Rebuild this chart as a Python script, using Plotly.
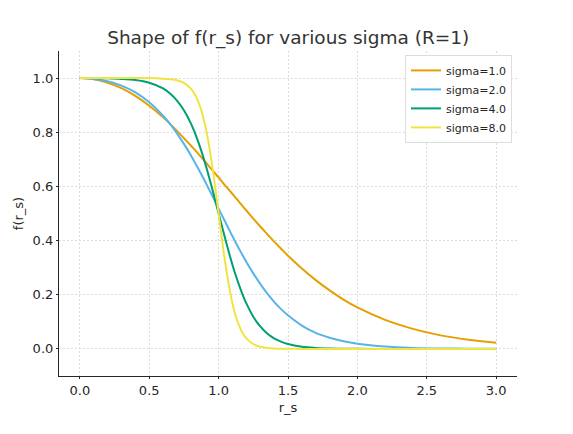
import plotly.graph_objects as go

# values
r_s = [0.0, 0.1, 0.2, 0.3, 0.4, 0.5, 0.6, 0.65, 0.7, 0.75, 0.8, 0.825, 0.85, 0.875, 0.9,
       0.925, 0.95, 0.975, 1.0, 1.025, 1.05, 1.075, 1.1, 1.125, 1.15, 1.175, 1.2, 1.25,
       1.3, 1.35, 1.4, 1.45, 1.5, 1.6, 1.7, 1.8, 1.9, 2.0, 2.2, 2.4, 2.6, 2.8, 3.0]

f_sigma1 = [1.0, 0.996, 0.983, 0.963, 0.934, 0.898, 0.855, 0.831, 0.805, 0.778, 0.751, 0.737,
            0.723, 0.708, 0.693, 0.678, 0.663, 0.648, 0.633, 0.617, 0.602, 0.587, 0.572,
            0.557, 0.541, 0.526, 0.511, 0.481, 0.452, 0.424, 0.396, 0.370, 0.344, 0.297,
            0.254, 0.216, 0.182, 0.153, 0.107, 0.074, 0.050, 0.034, 0.023]
f_sigma2 = [1.0, 0.997, 0.988, 0.972, 0.947, 0.911, 0.861, 0.831, 0.796, 0.757, 0.715, 0.692,
            0.669, 0.645, 0.621, 0.595, 0.570, 0.544, 0.518, 0.492, 0.467, 0.441, 0.416,
            0.391, 0.367, 0.344, 0.321, 0.279, 0.240, 0.205, 0.174, 0.147, 0.124, 0.086,
            0.059, 0.041, 0.028, 0.019, 0.0085, 0.0038, 0.0017, 0.0008, 0.0003]
f_sigma4 = [1.0, 1.0, 0.999, 0.997, 0.993, 0.983, 0.962, 0.943, 0.917, 0.881, 0.833, 0.803,
            0.769, 0.732, 0.690, 0.646, 0.599, 0.550, 0.500, 0.451, 0.402, 0.355, 0.310,
            0.269, 0.232, 0.198, 0.168, 0.119, 0.083, 0.057, 0.039, 0.027, 0.018, 0.008,
            0.0037, 0.0017, 0.0008, 0.0003, 0.0001, 0.0, 0.0, 0.0, 0.0]
f_sigma8 = [1.0, 1.0, 1.0, 1.0, 1.0, 1.0, 0.998, 0.996, 0.992, 0.982, 0.961, 0.943, 0.917,
            0.881, 0.832, 0.769, 0.690, 0.599, 0.500, 0.401, 0.310, 0.232, 0.168, 0.119,
            0.083, 0.057, 0.039, 0.018, 0.008, 0.0037, 0.0017, 0.0007, 0.0003, 0.0001, 0.0,
            0.0, 0.0, 0.0, 0.0, 0.0, 0.0, 0.0, 0.0]

names = ["sigma=1.0", "sigma=2.0", "sigma=4.0", "sigma=8.0"]
series = [f_sigma1, f_sigma2, f_sigma4, f_sigma8]
colors = ["#E69F00", "#56B4E9", "#009E73", "#F0E442"]

x_ticks = [0.0, 0.5, 1.0, 1.5, 2.0, 2.5, 3.0]
y_ticks = [0.0, 0.2, 0.4, 0.6, 0.8, 1.0]

fig = go.Figure()
for name, ys, c in zip(names, series, colors):
    fig.add_trace(go.Scatter(x=r_s, y=ys, mode="lines", name=name,
                             line=dict(color=c, width=2, shape="spline", smoothing=0.8)))

font = "DejaVu Sans, sans-serif"
axis_style = dict(showline=True, linecolor="#262626", linewidth=1.2, mirror=False,
                  showgrid=True, gridcolor="#dcdcdc", griddash="2px,2px", gridwidth=0.8,
                  zeroline=False, ticks="outside", ticklen=2, tickcolor="#262626",
                  tickfont=dict(size=13, color="#262626"), automargin=False)
fig.update_xaxes(range=[-0.15, 3.15], tickvals=x_ticks, ticktext=[f"{v:.1f}" for v in x_ticks],
                 title=dict(text="r_s", font=dict(size=13, color="#262626"), standoff=6),
                 **axis_style)
fig.update_yaxes(range=[-0.1, 1.1], tickvals=y_ticks, ticktext=[f"{v:.1f}" for v in y_ticks],
                 title=dict(text="f(r_s)", font=dict(size=13, color="#262626"), standoff=6),
                 **axis_style)

# the page adds an 8px body margin, so the margins are shifted back by 8px
fig.update_layout(
    width=573, height=434,
    margin=dict(l=51, r=64, t=43, b=66, autoexpand=False),
    plot_bgcolor="white", paper_bgcolor="white",
    font=dict(family=font, color="#262626"),
    title=dict(text="Shape of f(r_s) for various sigma (R=1)", x=0.489, xanchor="center",
               y=0.931, yanchor="middle", font=dict(size=18.5, color="#333333")),
    legend=dict(x=0.989, y=0.988, xanchor="right", yanchor="top",
                bgcolor="rgba(255,255,255,0.9)", bordercolor="#dddddd", borderwidth=1,
                font=dict(size=11, color="#262626"), itemwidth=30, tracegroupgap=0),
    showlegend=True,
)

fig.write_html("out.html")
